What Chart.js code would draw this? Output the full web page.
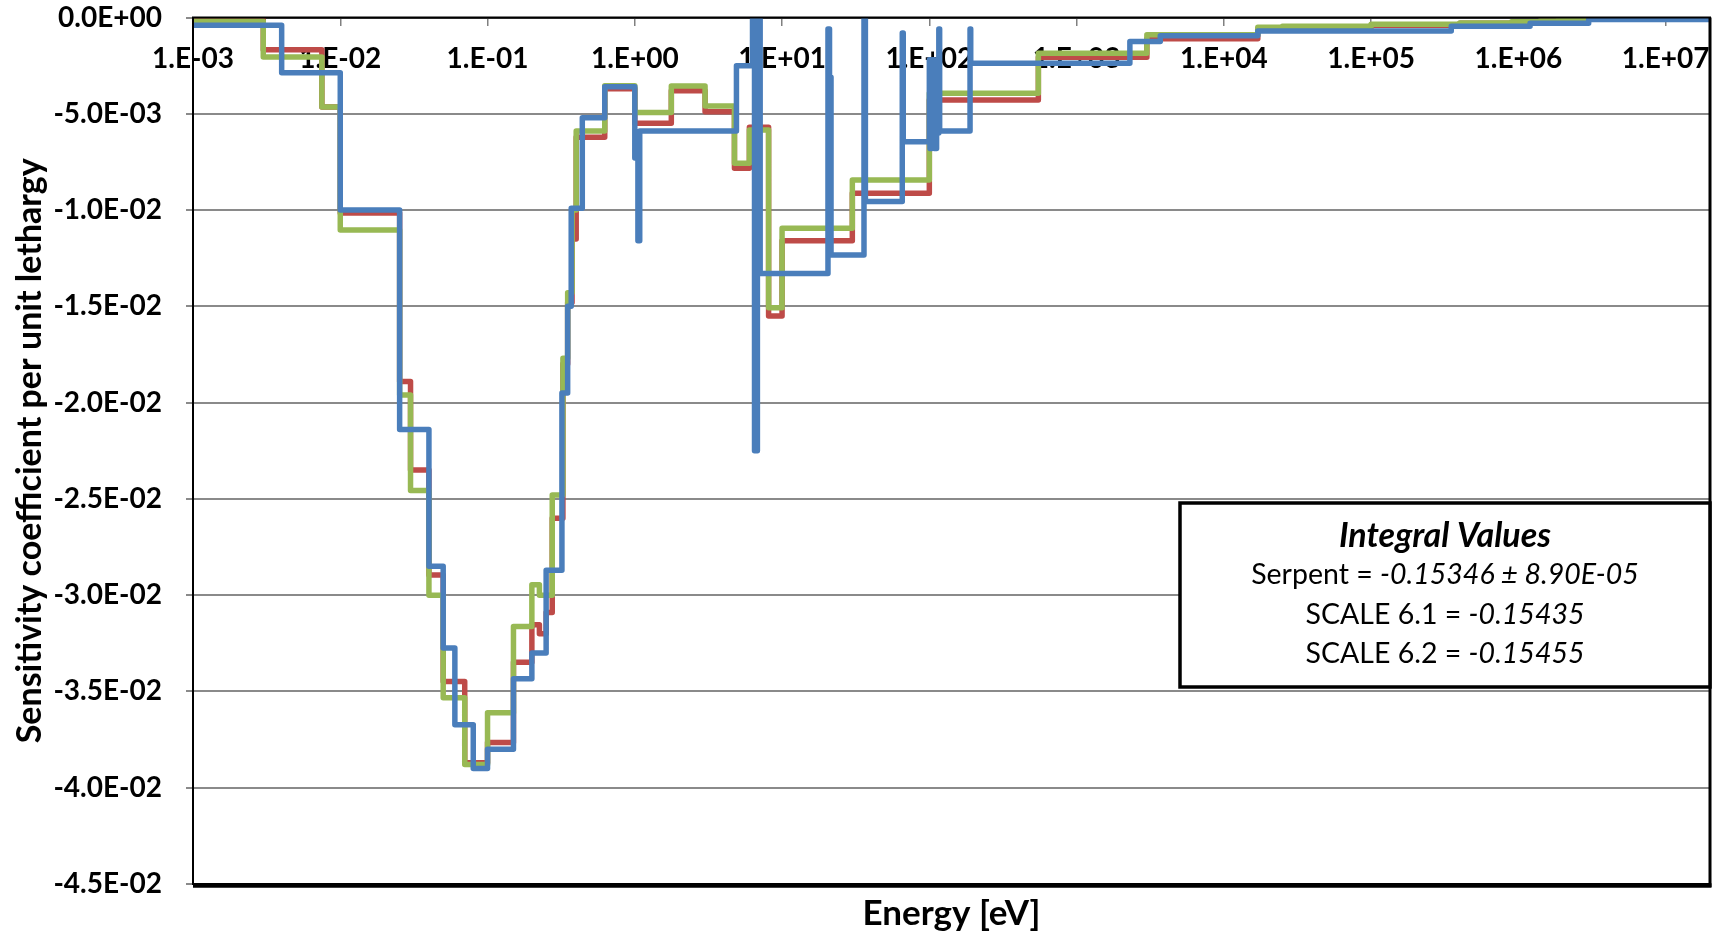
<!DOCTYPE html>
<html>
<head>
<meta charset="utf-8">
<script src="https://cdn.jsdelivr.net/npm/chart.js@4.4.0/dist/chart.umd.min.js"></script>
<style>
  html, body { margin: 0; padding: 0; background: #ffffff; }
  canvas { display: block; }
</style>
</head>
<body>
<canvas id="chart" width="1721" height="934"></canvas>
<script>
// SCALE 44-group energy boundaries [eV] (lower edge of each group, last entry = top edge)
const scaleEnergy = [1e-3, 3e-3, 7.5e-3, 1e-2, 2.53e-2, 3e-2, 4e-2, 5e-2, 7e-2, 0.1, 0.15, 0.2, 0.225, 0.25,
  0.275, 0.325, 0.35, 0.375, 0.4, 0.625, 1.0, 1.77, 3.0, 4.75, 6.0, 8.1, 10, 30, 100, 550, 3000, 1.7e4, 2.5e4,
  1e5, 4e5, 9e5, 1.4e6, 1.85e6, 2.354e6, 2.479e6, 3e6, 4.8e6, 6.434e6, 8.187e6, 2e7];

// Sensitivity per unit lethargy, one value per group
const scale61Values = [-0.0001, -0.00167, -0.00465, -0.01015, -0.0189, -0.0235, -0.02895, -0.03449, -0.0387,
  -0.03765, -0.03348, -0.03154, -0.0320, -0.0309, -0.0260, -0.0180, -0.0148, -0.0115, -0.00622, -0.0037,
  -0.00549, -0.0038, -0.00489, -0.00783, -0.0057, -0.0155, -0.01159, -0.00913, -0.00428, -0.00207, -0.0011,
  -0.0006, -0.0005, -0.0004, -0.0003, -0.00025, -0.0002, -0.00015, -0.00012, -0.0001, -0.00008, -0.00005,
  -0.00003, -0.00001];

const scale62Values = [-0.0002, -0.00205, -0.00465, -0.01103, -0.0196, -0.02457, -0.0300, -0.03533, -0.0388,
  -0.0361, -0.03163, -0.02946, -0.0300, -0.0300, -0.0248, -0.0177, -0.0143, -0.0100, -0.00589, -0.00355,
  -0.00494, -0.00356, -0.0046, -0.00757, -0.00584, -0.01508, -0.01095, -0.00844, -0.00394, -0.00186, -0.0009,
  -0.0005, -0.00045, -0.00035, -0.00028, -0.00022, -0.00018, -0.00014, -0.00011, -0.00009, -0.00007, -0.00004,
  -0.00002, -0.00001];

// Serpent energy grid [eV] and sensitivity per unit lethargy
const serpentEnergy = [1e-3, 4e-3, 1e-2, 2.53e-2, 4e-2, 5e-2, 6e-2, 8e-2, 0.1, 0.15, 0.2, 0.25, 0.32, 0.35,
  0.37, 0.44, 0.625, 1.0, 1.05, 1.08, 4.9, 6.3, 6.5, 6.8, 7.1, 20.5, 21.0, 21.5, 36.0, 36.8, 65.5, 66.5, 100,
  101, 104, 108, 112, 116, 117.5, 189, 191, 2300, 3700, 1.7e4, 3.5e5, 1.2e6, 3e6, 2e7];

const serpentValues = [-0.0004, -0.00287, -0.0100, -0.0214, -0.0285, -0.03275, -0.03673, -0.0390, -0.0380,
  -0.03434, -0.0330, -0.0287, -0.0195, -0.0150, -0.0099, -0.0052, -0.0036, -0.0073, -0.0116, -0.0059, -0.0025,
  -0.0001, -0.0225, -0.0001, -0.0133, -0.0006, -0.0031, -0.01233, 0.0, -0.00956, -0.0008, -0.00645, -0.0022,
  -0.0068, -0.0022, -0.0068, -0.0060, -0.0006, -0.0059, -0.0006, -0.00238, -0.00125, -0.00095, -0.0007,
  -0.00045, -0.0003, -0.0001];

// Axis ticks
const xTickValues = [1e-3, 1e-2, 1e-1, 1e0, 1e1, 1e2, 1e3, 1e4, 1e5, 1e6, 1e7];
const xTickLabels = ['1.E-03', '1.E-02', '1.E-01', '1.E+00', '1.E+01', '1.E+02', '1.E+03', '1.E+04',
  '1.E+05', '1.E+06', '1.E+07'];
const yTickValues = [-0.045, -0.040, -0.035, -0.030, -0.025, -0.020, -0.015, -0.010, -0.005, 0];
const yTickLabels = ['-4.5E-02', '-4.0E-02', '-3.5E-02', '-3.0E-02', '-2.5E-02', '-2.0E-02', '-1.5E-02',
  '-1.0E-02', '-5.0E-03', '0.0E+00'];

// Integral values box
const integralTitle = 'Integral Values';
const integralNames = ['Serpent', 'SCALE 6.1', 'SCALE 6.2'];
const integralResults = ['-0.15346 \u00B1 8.90E-05', '-0.15435', '-0.15455'];

// Each value holds from its own edge up to the next edge
function stepPoints(edges, values) {
  return edges.map((e, i) => ({ x: e, y: values[Math.min(i, values.length - 1)] }));
}

const FONT = 'Lato';

const frameAndNote = {
  id: 'frameAndNote',
  afterDraw(chart) {
    const { ctx, chartArea: a } = chart;
    ctx.save();
    ctx.strokeStyle = '#000000';
    ctx.lineCap = 'butt';
    // plot area frame
    ctx.lineWidth = 2;
    ctx.strokeRect(a.left, a.top, a.right - a.left, a.bottom - a.top);
    ctx.lineWidth = 4.5;
    ctx.beginPath(); ctx.moveTo(a.left, a.bottom + 1.5); ctx.lineTo(a.right + 1.5, a.bottom + 1.5); ctx.stroke();
    ctx.lineWidth = 3;
    ctx.beginPath(); ctx.moveTo(a.right, a.top); ctx.lineTo(a.right, a.bottom + 3); ctx.stroke();

    // integral values box
    const bx = 1180, by = 503, bw = a.right - 1180, bh = 184;
    ctx.fillStyle = '#ffffff';
    ctx.fillRect(bx, by, bw, bh);
    ctx.lineWidth = 3.5;
    ctx.strokeRect(bx, by, bw, bh);

    const cx = bx + bw / 2;
    ctx.fillStyle = '#000000';
    ctx.textBaseline = 'middle';
    ctx.textAlign = 'left';
    ctx.font = 'italic bold 34px ' + FONT;
    const w = ctx.measureText(integralTitle).width;
    ctx.fillText(integralTitle, cx - w / 2, 536);

    const rowY = [575, 614.5, 654];
    integralNames.forEach((name, i) => {
      const head = name + ' = ';
      ctx.font = '28.5px ' + FONT;
      const w1 = ctx.measureText(head).width;
      ctx.font = 'italic 28.5px ' + FONT;
      const w2 = ctx.measureText(integralResults[i]).width;
      const x0 = cx - (w1 + w2) / 2;
      ctx.font = '28.5px ' + FONT;
      ctx.fillText(head, x0, rowY[i]);
      ctx.font = 'italic 28.5px ' + FONT;
      ctx.fillText(integralResults[i], x0 + w1, rowY[i]);
    });
    ctx.restore();
  }
};

const lineStyle = {
  stepped: 'before',
  borderWidth: 5.5,
  pointRadius: 0,
  pointHoverRadius: 0,
  fill: false,
  borderJoinStyle: 'round',
  borderCapStyle: 'round'
};

new Chart(document.getElementById('chart'), {
  type: 'line',
  data: {
    datasets: [
      Object.assign({ label: 'Serpent', data: stepPoints(serpentEnergy, serpentValues), borderColor: '#4A7EBB', order: 1 }, lineStyle),
      Object.assign({ label: 'SCALE 6.2', data: stepPoints(scaleEnergy, scale62Values), borderColor: '#98B954', order: 2 }, lineStyle),
      Object.assign({ label: 'SCALE 6.1', data: stepPoints(scaleEnergy, scale61Values), borderColor: '#BE4B48', order: 3 }, lineStyle)
    ]
  },
  options: {
    responsive: false,
    animation: false,
    devicePixelRatio: 1,
    layout: { padding: { top: 17.5, right: 11, bottom: 0.75, left: 0 } },
    plugins: {
      legend: { display: false },
      tooltip: { enabled: false },
      title: {
        display: true,
        text: 'Energy [eV]',
        position: 'bottom',
        fullSize: false,
        color: '#000000',
        font: { family: FONT, weight: 'bold', size: 35, lineHeight: 1.1 },
        padding: { top: 10.75, bottom: 0 }
      }
    },
    scales: {
      x: {
        type: 'logarithmic',
        position: { y: 0 },
        min: 1e-3,
        max: 2e7,
        afterBuildTicks: s => { s.ticks = xTickValues.map(v => ({ value: v })); },
        afterFit: s => { s.paddingLeft = 0; s.paddingRight = 0; },
        ticks: {
          autoSkip: false,
          maxRotation: 0,
          padding: 17.5,
          color: '#000000',
          font: { family: FONT, weight: 'bold', size: 28 },
          callback: (v, i) => xTickLabels[i]
        },
        grid: { drawOnChartArea: false, drawTicks: true, tickLength: 7, color: '#808080', lineWidth: 1.5 },
        border: { display: true, color: '#4d4d4d', width: 2 }
      },
      y: {
        type: 'linear',
        min: -0.045,
        max: 0,
        afterBuildTicks: s => { s.ticks = yTickValues.map(v => ({ value: v })); },
        afterFit: s => { s.width = 193; s.paddingTop = 0; s.paddingBottom = 0; },
        ticks: {
          padding: 24,
          color: '#000000',
          font: { family: FONT, weight: 'bold', size: 28 },
          callback: (v, i) => yTickLabels[i]
        },
        grid: { color: '#8a8a8a', lineWidth: 2, drawTicks: true, tickLength: 7 },
        border: { display: true, color: '#000000', width: 2 },
        title: {
          display: true,
          text: 'Sensitivity coefficient per unit lethargy',
          color: '#000000',
          font: { family: FONT, weight: 'bold', size: 34, lineHeight: 1.2 },
          padding: { top: 9.6, bottom: 0 }
        }
      }
    }
  },
  plugins: [frameAndNote]
});
</script>
</body>
</html>
